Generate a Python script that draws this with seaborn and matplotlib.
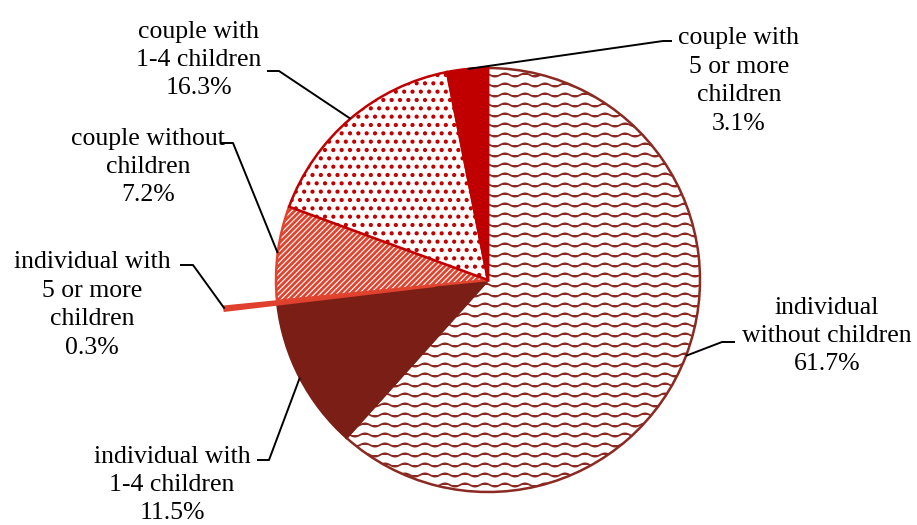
import numpy as np
import matplotlib
matplotlib.use("Agg")
import matplotlib.pyplot as plt
import matplotlib.hatch as mhatch
from matplotlib.path import Path
import seaborn as sns

# ---------------- data ----------------
categories = ["individual\nwithout children", "individual with\n1-4 children",
              "individual with\n5 or more\nchildren", "couple without\nchildren",
              "couple with\n1-4 children", "couple with\n5 or more\nchildren"]
shares = [61.7, 11.5, 0.3, 7.2, 16.3, 3.1]
explode = [0, 0, 0.25, 0, 0, 0]

# ---------------- styles ----------------
face_colors = ["white", "#7B1F16", "#E0402E", "white", "white", "#C00000"]
edge_colors = ["#8B2A22", "#7B1F16", "#E0402E", "#E0442F", "#C00000", "#C00000"]
hatches = ["~", None, None, "//////", "..", None]
hatch_lws = [1.3, 1.0, 1.0, 2.0, 1.8, 1.0]

# label layout in pixel coords: text centre, elbow point, end of horizontal tick
label_layout = [
    ((827, 336), (722, 342), (735, 342)),
    ((172, 485), (269, 460), (257, 460)),
    ((92, 305), (193, 265), (180, 265)),
    ((148, 167), (233, 143), (221, 143)),
    ((199, 60), (279, 71), (267, 71)),
    ((739, 81), (663, 41), (672, 41)),
]

W, H = 917, 525
R = 212


# custom wave hatch ('~')
class WaveHatch(mhatch.HatchPatternBase):
    def __init__(self, hatch, density):
        self.rows = 10 if (hatch and "~" in hatch) else 0
        self.npts = 121
        self.num_vertices = self.rows * self.npts

    def set_vertices_and_codes(self, vertices, codes):
        t = np.linspace(0, 1, self.npts)
        k = 0
        for i in range(self.rows):
            y0 = (i + 0.5) / self.rows
            vertices[k:k + self.npts, 0] = t
            vertices[k:k + self.npts, 1] = y0 + 0.016 * np.sin(2 * np.pi * 5 * t)
            codes[k] = Path.MOVETO
            codes[k + 1:k + self.npts] = Path.LINETO
            k += self.npts


mhatch._hatch_types.append(WaveHatch)

sns.set_theme(style="white")
plt.rcParams["font.family"] = ["Liberation Serif", "DejaVu Serif"]

fig = plt.figure(figsize=(W / 100, H / 100), dpi=100)
ax = fig.add_axes([0, 0, 1, 1])


def Y(py):
    return H - py


wedges, _ = ax.pie(shares, explode=[e * R for e in explode], startangle=90,
                   counterclock=False, radius=R, center=(488, Y(280)),
                   normalize=True, wedgeprops=dict(linewidth=1.8))

for w, fc, ec, hc, hlw in zip(wedges, face_colors, edge_colors, hatches, hatch_lws):
    w.set_facecolor(fc)
    w.set_edgecolor(ec)
    if hc:
        w._hatch = hc
        if hasattr(w, "set_hatch_linewidth"):
            w.set_hatch_linewidth(hlw)
        else:
            w._hatch_linewidth = hlw

for w, cat, val, (tpos, elbow, end) in zip(wedges, categories, shares, label_layout):
    mid = np.deg2rad((w.theta1 + w.theta2) / 2)
    cx, cy = w.center
    ax_x = cx + w.r * np.cos(mid)
    ax_y = cy + w.r * np.sin(mid)
    ax.plot([ax_x, elbow[0], end[0]], [ax_y, Y(elbow[1]), Y(end[1])],
            color="black", lw=1.4, solid_capstyle="butt", zorder=5)
    ax.text(tpos[0], Y(tpos[1]), f"{cat}\n{val:.1f}%", ha="center", va="center",
            fontsize=18.5, color="black", linespacing=1.38,
            family=["Liberation Serif", "DejaVu Serif"])

ax.set_xlim(0, W)
ax.set_ylim(0, H)
ax.set_aspect("auto")
ax.axis("off")
fig.savefig("out.png", dpi=100)
